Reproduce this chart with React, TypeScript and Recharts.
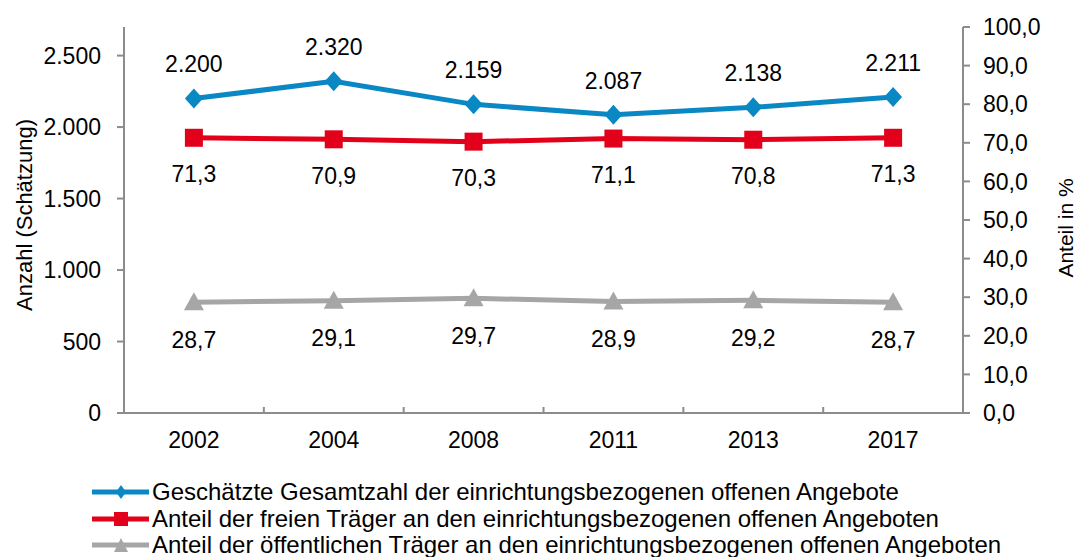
import { LineChart, Line, XAxis, YAxis, LabelList } from "recharts";

const years = ["2002", "2004", "2008", "2011", "2013", "2017"];
const gesamtzahl = [2200, 2320, 2159, 2087, 2138, 2211];
const anteilFrei = [71.3, 70.9, 70.3, 71.1, 70.8, 71.3];
const anteilOeffentlich = [28.7, 29.1, 29.7, 28.9, 29.2, 28.7];
const leftTicks = [0, 500, 1000, 1500, 2000, 2500];
const rightTicks = [0, 10, 20, 30, 40, 50, 60, 70, 80, 90, 100];

const BLUE = "#0a88c4";
const RED = "#e2001a";
const GRAY = "#a6a6a6";
const AXIS = "#8c8c8c";
const FONT = "'Liberation Sans', Arial, sans-serif";
const FS = 23;

const data = years.map((year, i) => ({
  year,
  gesamt: gesamtzahl[i],
  frei: anteilFrei[i],
  oeff: anteilOeffentlich[i],
}));

const fmtThousands = (v: number) =>
  String(Math.round(v)).replace(/\B(?=(\d{3})+(?!\d))/g, ".");
const fmtComma = (v: number) => Number(v).toFixed(1).replace(".", ",");

const Diamond = (props: any) => {
  const { cx, cy, fill } = props;
  if (cx == null || cy == null) return null;
  return <path d={`M${cx},${cy - 10} L${cx + 9},${cy} L${cx},${cy + 10} L${cx - 9},${cy} Z`} fill={fill} />;
};

const Square = (props: any) => {
  const { cx, cy, fill } = props;
  if (cx == null || cy == null) return null;
  return <rect x={cx - 9} y={cy - 9} width={18} height={18} fill={fill} />;
};

const Triangle = (props: any) => {
  const { cx, cy, fill } = props;
  if (cx == null || cy == null) return null;
  return <path d={`M${cx},${cy - 10} L${cx + 10},${cy + 8} L${cx - 10},${cy + 8} Z`} fill={fill} />;
};

const BAND = 139.8;

const XTick = (props: any) => {
  const { x, y, payload } = props;
  return (
    <g>
      <line x1={x - BAND / 2} y1={y - 14} x2={x - BAND / 2} y2={y - 7} stroke={AXIS} strokeWidth={2} />
      <text x={x} y={y + 27} textAnchor="middle" fontSize={FS} fontFamily={FONT} fill="#000">
        {payload.value}
      </text>
    </g>
  );
};

const legendItems = [
  { label: "Geschätzte Gesamtzahl der einrichtungsbezogenen offenen Angebote", color: BLUE, shape: "diamond" },
  { label: "Anteil der freien Träger an den einrichtungsbezogenen offenen Angeboten", color: RED, shape: "square" },
  { label: "Anteil der öffentlichen Träger an den einrichtungsbezogenen offenen Angeboten", color: GRAY, shape: "triangle" },
];

function LegendIcon({ color, shape }: { color: string; shape: string }) {
  return (
    <svg width={60} height={20} style={{ display: "block" }}>
      <line x1={0} y1={10} x2={57} y2={10} stroke={color} strokeWidth={5} />
      {shape === "diamond" && <path d="M29,3 L34,10 L29,17 L24,10 Z" fill={color} />}
      {shape === "square" && <rect x={22} y={3} width={14} height={14} fill={color} />}
      {shape === "triangle" && <path d="M29,3 L36,17 L22,17 Z" fill={color} />}
    </svg>
  );
}

export default function App() {
  return (
    <div style={{ position: "relative", width: 1077, height: 557, overflow: "hidden", fontFamily: FONT, background: "#fff" }}>
      <style>{"body{margin:0}"}</style>
      <LineChart
        width={1077}
        height={468}
        data={data}
        margin={{ top: 27, right: 0, bottom: 0, left: 0 }}
      >
        <XAxis
          dataKey="year"
          axisLine={{ stroke: AXIS, strokeWidth: 2 }}
          tickLine={false}
          tick={<XTick />}
          padding={{ left: BAND / 2, right: BAND / 2 }}
          height={55}
          interval={0}
        />
        <YAxis
          yAxisId="left"
          domain={[0, 2700]}
          ticks={leftTicks}
          width={124}
          axisLine={{ stroke: AXIS, strokeWidth: 2 }}
          tickLine={{ stroke: AXIS, strokeWidth: 2 }}
          tickSize={7}
          tickMargin={16}
          tickFormatter={fmtThousands}
          tick={{ fill: "#000", fontSize: FS, fontFamily: FONT }}
          label={() => {
            const cx = 24;
            const cy = 215;
            return (
              <text x={cx} y={cy} transform={`rotate(-90 ${cx} ${cy})`} textAnchor="middle" dominantBaseline="central" fontSize={22} fontFamily={FONT} fill="#000">
                Anzahl (Schätzung)
              </text>
            );
          }}
        />
        <YAxis
          yAxisId="right"
          orientation="right"
          domain={[0, 100]}
          ticks={rightTicks}
          width={114}
          axisLine={{ stroke: AXIS, strokeWidth: 2 }}
          tickLine={{ stroke: AXIS, strokeWidth: 2 }}
          tickSize={7}
          tickMargin={13}
          tickFormatter={fmtComma}
          tick={{ fill: "#000", fontSize: FS, fontFamily: FONT }}
          label={() => {
            const cx = 1065;
            const cy = 228;
            return (
              <text x={cx} y={cy} transform={`rotate(-90 ${cx} ${cy})`} textAnchor="middle" dominantBaseline="central" fontSize={21} fontFamily={FONT} fill="#000">
                Anteil in %
              </text>
            );
          }}
        />
        <Line
          yAxisId="right"
          dataKey="oeff"
          stroke={GRAY}
          strokeWidth={5}
          dot={<Triangle fill={GRAY} />}
          activeDot={false}
          isAnimationActive={false}
        >
          <LabelList dataKey="oeff" position="bottom" offset={29} formatter={(v: any) => fmtComma(v)} fill="#000" fontSize={FS} fontFamily={FONT} />
        </Line>
        <Line
          yAxisId="right"
          dataKey="frei"
          stroke={RED}
          strokeWidth={5}
          dot={<Square fill={RED} />}
          activeDot={false}
          isAnimationActive={false}
        >
          <LabelList dataKey="frei" position="bottom" offset={28} formatter={(v: any) => fmtComma(v)} fill="#000" fontSize={FS} fontFamily={FONT} />
        </Line>
        <Line
          yAxisId="left"
          dataKey="gesamt"
          stroke={BLUE}
          strokeWidth={5}
          dot={<Diamond fill={BLUE} />}
          activeDot={false}
          isAnimationActive={false}
        >
          <LabelList dataKey="gesamt" position="top" offset={26} formatter={(v: any) => fmtThousands(v)} fill="#000" fontSize={FS} fontFamily={FONT} />
        </Line>
      </LineChart>
      <div style={{ position: "absolute", left: 92, top: 479 }}>
        {legendItems.map((it) => (
          <div key={it.label} style={{ display: "flex", alignItems: "center", height: 26.5 }}>
            <LegendIcon color={it.color} shape={it.shape} />
            <span style={{ fontSize: 24, color: "#000", whiteSpace: "nowrap", lineHeight: "26px" }}>{it.label}</span>
          </div>
        ))}
      </div>
    </div>
  );
}
